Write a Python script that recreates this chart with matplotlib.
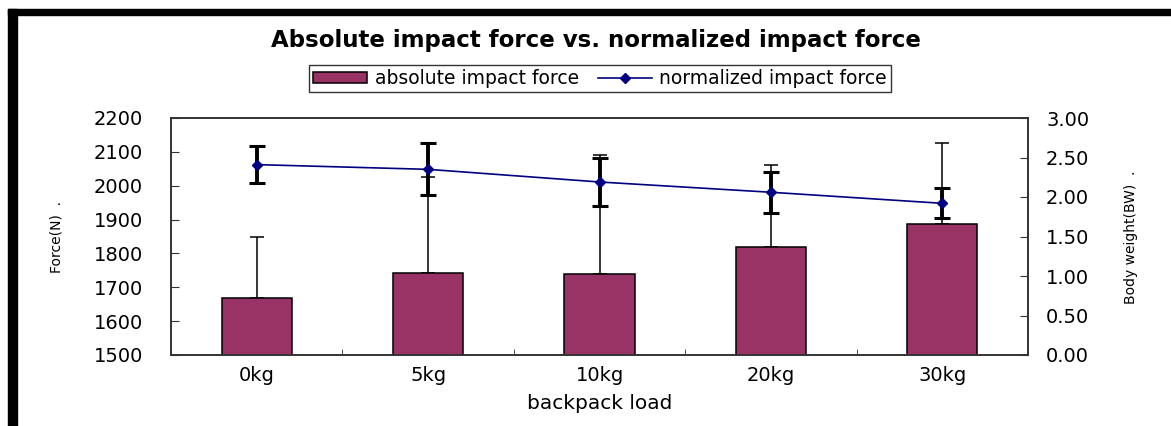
import numpy as np
import matplotlib
matplotlib.use("Agg")
import matplotlib.pyplot as plt
from matplotlib.patches import Rectangle
from matplotlib.lines import Line2D
from matplotlib.ticker import FormatStrFormatter

# values
loads = ["0kg", "5kg", "10kg", "20kg", "30kg"]
abs_force = [1667, 1742, 1739, 1818, 1888]
abs_force_sd = [181, 285, 352, 243, 237]
norm_force = [2.41, 2.35, 2.19, 2.06, 1.92]
norm_force_sd = [0.23, 0.33, 0.30, 0.26, 0.19]

W, H = 1171, 426
BAR_COLOR = "#993366"
LINE_COLOR = "#000080"


def px_box(x0, y0, x1, y1):
    """Pixel box (top-left origin) -> figure fraction rect."""
    return [x0 / W, 1 - y1 / H, (x1 - x0) / W, (y1 - y0) / H]


plt.rcParams["font.family"] = ["DejaVu Sans"]
fig = plt.figure(figsize=(W / 100, H / 100), dpi=100)
fig.patch.set_facecolor("white")

ax = fig.add_axes(px_box(171, 118, 1028, 355))
x = np.arange(len(loads))

ax.errorbar(x, abs_force, yerr=[np.zeros(len(x)), abs_force_sd], fmt="none",
            ecolor="black", elinewidth=1.1, capsize=4.7, capthick=1.1, zorder=1)
bars = ax.bar(x, abs_force, width=0.41, color=BAR_COLOR, edgecolor="black",
              linewidth=1.1, zorder=2)

ax.set_xlim(-0.5, len(x) - 0.5)
ax.set_ylim(1500, 2200)
ax.set_yticks(np.arange(1500, 2201, 100))
ax.set_xticks(x)
ax.set_xticklabels(loads)
ax.set_xticks(x[:-1] + 0.5, minor=True)
ax.tick_params(axis="x", which="major", length=0, pad=8, labelsize=14)
ax.tick_params(axis="x", which="minor", direction="in", length=4, color="#333333")
ax.tick_params(axis="y", direction="in", length=6, pad=20, labelsize=14, color="#333333")
for s in ax.spines.values():
    s.set_color("#333333")
    s.set_linewidth(1.2)

ax.set_xlabel("backpack load", fontsize=14.5)
ax.xaxis.set_label_coords(0.5, -(394 - 355) / 237)
ax.set_ylabel("Force(N)  .", fontsize=10, va="center")
ax.yaxis.set_label_coords((57 - 171) / 857, (355 - 237) / 237)

ax2 = ax.twinx()
ax2.errorbar(x, norm_force, yerr=norm_force_sd, fmt="none", ecolor="black",
             elinewidth=2.8, capsize=6, capthick=2.2, zorder=2)
ax2.plot(x, norm_force, color=LINE_COLOR, linewidth=1.2, marker="D",
         markersize=5, zorder=3)
ax2.set_ylim(0, 3)
ax2.set_yticks(np.arange(0, 3.01, 0.5))
ax2.yaxis.set_major_formatter(FormatStrFormatter("%.2f"))
ax2.tick_params(axis="y", direction="in", length=6, pad=13, labelsize=14, color="#333333")
for s in ax2.spines.values():
    s.set_color("#333333")
    s.set_linewidth(1.2)
ax2.set_ylabel("Body weight(BW)  .", fontsize=10, va="center")
ax2.yaxis.set_label_coords((1131 - 171) / 857, (355 - 237) / 237)

fig.text(596 / W, 1 - 40 / H, "Absolute impact force vs. normalized impact force",
         ha="center", va="center", fontsize=16.5, fontweight="bold")

line_handle = Line2D([], [], color=LINE_COLOR, linewidth=1.2, marker="D", markersize=5)
leg = fig.legend([bars, line_handle], ["absolute impact force", "normalized impact force"],
                 loc="center", bbox_to_anchor=(600 / W, 1 - 78.5 / H), ncol=2,
                 frameon=True, fancybox=False, edgecolor="black", fontsize=13.5,
                 handlelength=2.9, handleheight=0.5, handletextpad=0.4,
                 columnspacing=1.0, borderpad=0.2)
leg.get_frame().set_linewidth(1.0)

# thick black frame on top and left edges, as in the source image
fig.add_artist(Rectangle((8 / W, 1 - 15 / H), 1 - 8 / W, 6 / H,
                         transform=fig.transFigure, color="black", zorder=10))
fig.add_artist(Rectangle((8 / W, 0), 9 / W, 1 - 9 / H,
                         transform=fig.transFigure, color="black", zorder=10))

fig.savefig("out.png", dpi=100, facecolor="white")
